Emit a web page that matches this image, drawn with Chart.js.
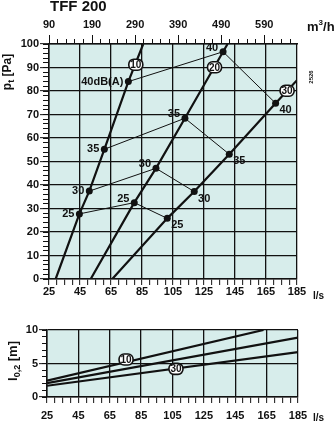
<!DOCTYPE html>
<html>
<head>
<meta charset="utf-8">
<title>TFF 200</title>
<script src="https://cdn.jsdelivr.net/npm/chart.js@4.4.1/dist/chart.umd.min.js"></script>
<style>
  body { margin: 0; background: #fff; }
  #wrap { position: relative; width: 334px; height: 423px; overflow: hidden;
          font-family: "Liberation Sans", Arial, sans-serif; font-weight: bold; color: #111; }
  canvas { position: absolute; left: 0; }
  .txt { position: absolute; white-space: nowrap; line-height: 1; }
  .rot { transform: translate(-50%, -50%) rotate(-90deg); }
  .sub { font-size: 9px; position: relative; top: 3px; }
  .sup { font-size: 8px; position: relative; top: -6px; }
</style>
</head>
<body>
<div id="wrap">
  <canvas id="pressureChart" width="334" height="305" style="top:0"></canvas>
  <canvas id="throwChart" width="334" height="118" style="top:305px"></canvas>

  <div class="txt" style="left:50px;top:-2px;font-size:15px">TFF 200</div>
  <div class="txt" style="left:307px;top:20px;font-size:13px">m<span class="sup">3</span>/h</div>
  <div class="txt rot" style="left:7px;top:72px;font-size:12px">p<span class="sub">t</span> [Pa]</div>
  <div class="txt rot" style="left:311px;top:77px;font-size:6px">2526</div>
  <div class="txt" style="left:313px;top:291px;font-size:10px">l/s</div>
  <div class="txt rot" style="left:12px;top:361px;font-size:13px">l<span class="sub">0,2</span> [m]</div>
  <div class="txt" style="left:313px;top:413px;font-size:10px">l/s</div>
</div>

<script>
// flow axis (l/s) and the m³/h labels on top
const flowTicks = [25, 45, 65, 85, 105, 125, 145, 165, 185];
const m3hTicks = [90, 190, 290, 390, 490, 590];

// sound level points on each setting line
const dbLevels = ["25", "30", "35", "40"];
const flow10 = [44.6, 51.0, 60.7, 76.2];
const pa10 = [27.7, 37.4, 55.2, 84.0];
const flow20 = [80.0, 94.0, 112.7, 137.3];
const pa20 = [32.5, 47.1, 68.4, 96.7];
const flow30 = [101.3, 118.7, 141.3, 171.2];
const pa30 = [25.8, 37.2, 53.1, 74.8];

// where the setting lines enter and leave the chart
const end10Flow = [29.3, 85.8];
const end10Pa = [0, 100];
const end20Flow = [51.9, 140.2];
const end20Pa = [0, 100];
const end30Flow = [65.8, 185];
const end30Pa = [0, 84.6];

// setting tags sitting on the lines
const tagText = ["10", "20", "30"];
const tagFlow = [81.0, 131.8, 178.6];
const tagPa = [91.2, 90.1, 80.1];

// throw l0,2 [m]
const throwFlow10 = [25, 163];
const throw10 = [2.45, 10];
const throwFlow20 = [25, 185];
const throw20 = [2.08, 8.86];
const throwFlow30 = [25, 185];
const throw30 = [1.68, 6.69];
const throwTagText = ["10", "30"];
const throwTagFlow = [75.4, 107.2];
const throwTagM = [5.6, 4.2];

const ink = "#111";
const tickFont = { family: "Liberation Sans", size: 11, weight: "bold" };

const xy = (xs, ys) => xs.map((x, i) => ({ x: x, y: ys[i] }));

const plotBg = {
    id: "plotBg",
    beforeDraw(chart) {
        const a = chart.chartArea;
        const c = chart.ctx;
        c.save();
        c.fillStyle = "#d7edeb";
        c.fillRect(a.left, a.top, a.right - a.left, a.bottom - a.top);
        c.restore();
    }
};

function drawTag(ctx, x, y, text) {
    ctx.save();
    ctx.beginPath();
    ctx.roundRect(x - 7, y - 5.5, 14, 11, 5);
    ctx.fillStyle = "#fff";
    ctx.fill();
    ctx.lineWidth = 1.6;
    ctx.strokeStyle = ink;
    ctx.stroke();
    ctx.fillStyle = ink;
    ctx.font = "bold 10px 'Liberation Sans'";
    ctx.textAlign = "center";
    ctx.textBaseline = "middle";
    ctx.fillText(text, x, y + 0.5);
    ctx.restore();
}

const pressureLabels = {
    id: "pressureLabels",
    afterDatasetsDraw(chart) {
        const { ctx } = chart;
        const x = chart.scales.x, y = chart.scales.y;
        ctx.save();
        ctx.font = "bold 11px 'Liberation Sans'";
        ctx.fillStyle = ink;
        ctx.textBaseline = "middle";
        dbLevels.forEach((db, i) => {
            ctx.textAlign = "right";
            ctx.fillText(i === 3 ? db + "dB(A)" : db, x.getPixelForValue(flow10[i]) - 5, y.getPixelForValue(pa10[i]));
            ctx.textAlign = "center";
            ctx.fillText(db, x.getPixelForValue(flow20[i]) - 11, y.getPixelForValue(pa20[i]) - 4);
            ctx.fillText(db, x.getPixelForValue(flow30[i]) + 10, y.getPixelForValue(pa30[i]) + 7);
        });
        ctx.restore();
        tagText.forEach((t, i) => drawTag(ctx, x.getPixelForValue(tagFlow[i]), y.getPixelForValue(tagPa[i]), t));
    }
};

const throwLabels = {
    id: "throwLabels",
    afterDatasetsDraw(chart) {
        const x = chart.scales.x, y = chart.scales.y;
        throwTagText.forEach((t, i) => drawTag(chart.ctx, x.getPixelForValue(throwTagFlow[i]), y.getPixelForValue(throwTagM[i]), t));
    }
};

function thick(data) {
    return { data: data, showLine: true, borderColor: ink, borderWidth: 2.2, pointRadius: 0 };
}

function thin(data) {
    return { data: data, showLine: true, borderColor: ink, borderWidth: 1,
             pointRadius: 3.5, pointBackgroundColor: ink, pointBorderWidth: 0 };
}

function flowAxis(height, labelPad) {
    return {
        type: "linear", position: "bottom", min: 25, max: 185,
        afterFit: s => { s.height = height; },
        ticks: { stepSize: 5, autoSkip: false, maxRotation: 0, minRotation: 0, padding: labelPad,
                 color: ink, font: tickFont, callback: v => flowTicks.includes(v) ? v : "" },
        grid: { color: c => flowTicks.includes(c.tick.value) ? ink : "rgba(0,0,0,0)",
                tickColor: ink, lineWidth: 1.3, tickWidth: 1, tickLength: 6 },
        border: { color: ink, width: 1.5 }
    };
}

function valueAxes(max, major, minor, width, majorLen, minorLen) {
    return {
        y: {
            type: "linear", position: "left", min: 0, max: max, weight: 1,
            afterFit: s => { s.width = width; },
            ticks: { stepSize: major, padding: 1, color: ink, font: tickFont },
            grid: { color: ink, lineWidth: 1.3, tickWidth: 1, tickLength: majorLen },
            border: { color: ink, width: 1.5 }
        },
        yMinor: {
            type: "linear", position: "left", min: 0, max: max, weight: 0,
            afterFit: s => { s.width = 0; },
            ticks: { stepSize: minor, display: false },
            grid: { drawOnChartArea: false, color: ink, tickWidth: 1, tickLength: minorLen },
            border: { display: false }
        }
    };
}

const pressureDatasets = dbLevels.map((db, i) =>
    thin(xy([flow10[i], flow20[i], flow30[i]], [pa10[i], pa20[i], pa30[i]])));
pressureDatasets.push(
    thick(xy([end10Flow[0], ...flow10, end10Flow[1]], [end10Pa[0], ...pa10, end10Pa[1]])),
    thick(xy([end20Flow[0], ...flow20, end20Flow[1]], [end20Pa[0], ...pa20, end20Pa[1]])),
    thick(xy([end30Flow[0], ...flow30, end30Flow[1]], [end30Pa[0], ...pa30, end30Pa[1]]))
);

new Chart(document.getElementById("pressureChart"), {
    type: "scatter",
    data: { datasets: pressureDatasets },
    options: {
        responsive: false,
        animation: false,
        layout: { padding: { left: 0, right: 37, top: 0, bottom: 0 } },
        plugins: { legend: { display: false }, tooltip: { enabled: false } },
        scales: Object.assign({
            x: flowAxis(26, 0),
            x2: {
                type: "linear", position: "top", min: 90, max: 666, weight: 1,
                afterFit: s => { s.height = 44; },
                afterBuildTicks: s => { s.ticks = m3hTicks.map(v => ({ value: v })); },
                ticks: { autoSkip: false, maxRotation: 0, minRotation: 0, padding: 3, color: ink, font: tickFont },
                grid: { drawOnChartArea: false, color: ink, tickWidth: 1, tickLength: 9 },
                border: { color: ink, width: 1.5 }
            },
            x2Minor: {
                type: "linear", position: "top", min: 90, max: 666, weight: 0,
                afterFit: s => { s.height = 0; },
                afterBuildTicks: s => {
                    const t = [];
                    for (let v = 90; v <= 666; v += 20) t.push({ value: v });
                    s.ticks = t;
                },
                ticks: { display: false },
                grid: { drawOnChartArea: false, color: ink, tickWidth: 1, tickLength: 5 },
                border: { display: false }
            }
        }, valueAxes(100, 10, 2, 49, 9, 6))
    },
    plugins: [plotBg, pressureLabels]
});

new Chart(document.getElementById("throwChart"), {
    type: "scatter",
    data: {
        datasets: [
            thick(xy(throwFlow10, throw10)),
            thick(xy(throwFlow20, throw20)),
            thick(xy(throwFlow30, throw30))
        ]
    },
    options: {
        responsive: false,
        animation: false,
        layout: { padding: { left: 0, right: 36, top: 25, bottom: 0 } },
        plugins: { legend: { display: false }, tooltip: { enabled: false } },
        scales: Object.assign({ x: flowAxis(26, 6) }, valueAxes(10, 5, 1, 47, 8, 5))
    },
    plugins: [plotBg, throwLabels]
});
</script>
</body>
</html>
